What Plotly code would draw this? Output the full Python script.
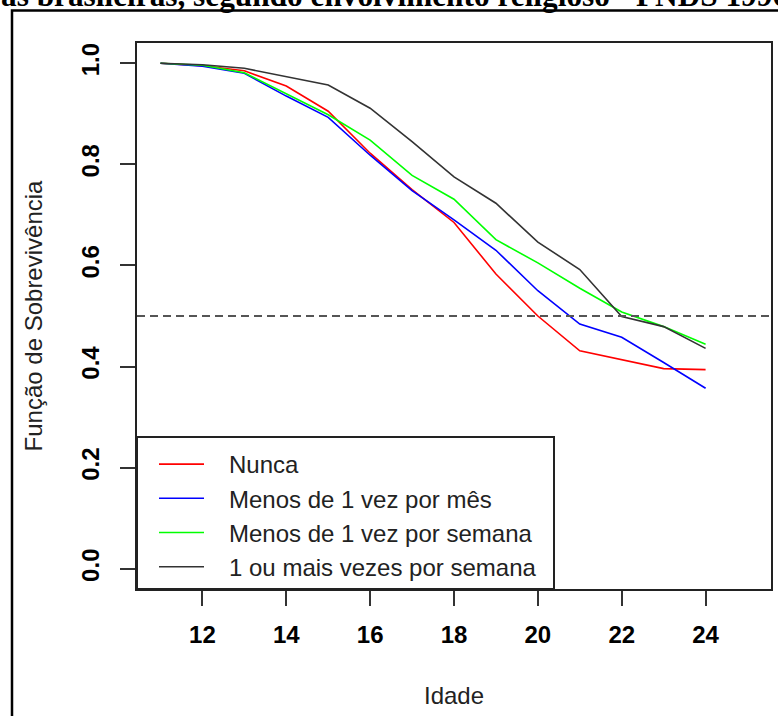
import plotly.graph_objects as go

# ---- data ----
ages = [11, 12, 13, 14, 15, 16, 17, 18, 19, 20, 21, 22, 23, 24]
nunca = [1.0, 0.995, 0.985, 0.955, 0.905, 0.822, 0.750, 0.685, 0.583, 0.500, 0.431, 0.414, 0.396, 0.394]
menos_mes = [1.0, 0.994, 0.980, 0.935, 0.893, 0.818, 0.748, 0.690, 0.630, 0.550, 0.484, 0.458, 0.408, 0.357]
menos_semana = [1.0, 0.996, 0.981, 0.940, 0.898, 0.848, 0.778, 0.731, 0.651, 0.605, 0.555, 0.508, 0.479, 0.444]
mais_semana = [1.0, 0.997, 0.990, 0.973, 0.957, 0.911, 0.845, 0.775, 0.723, 0.646, 0.592, 0.499, 0.479, 0.436]

series_names = ["Nunca", "Menos de 1 vez por mês", "Menos de 1 vez por semana", "1 ou mais vezes por semana"]
series_values = [nunca, menos_mes, menos_semana, mais_semana]
series_colors = ["#FF0000", "#0000FF", "#00FF00", "#333333"]

x_ticks = [12, 14, 16, 18, 20, 22, 24]
y_ticks = [0.0, 0.2, 0.4, 0.6, 0.8, 1.0]
ref_level = 0.5

title_text = "as brasileiras, segundo envolvimento religioso - PNDS 1996"
x_title = "Idade"
y_title = "Função de Sobrevivência"

# ---- figure ----
W, H = 778, 716
L, R, T, B = 137, 7, 43, 127
pw, ph = W - L - R, H - T - B

def px_x(px):
    return (px - L) / pw

def px_y(py):
    return (H - B - py) / ph

PAD = "\u00a0\u00a0\u00a0"

fig = go.Figure()
for name, vals, col in zip(series_names, series_values, series_colors):
    fig.add_trace(go.Scatter(x=ages, y=vals, mode="lines", name=PAD + name,
                             line=dict(color=col, width=1.6)))

fig.add_hline(y=ref_level, line=dict(color="#555555", width=2, dash="8px,5px"))

font_main = "Liberation Sans, Arial, sans-serif"
axis_common = dict(showgrid=False, zeroline=False, showline=True, mirror=True,
                   linecolor="#222222", linewidth=2, ticks="outside", ticklen=15,
                   tickwidth=2, tickcolor="#333333", automargin=False,
                   tickfont=dict(family=font_main, size=24, color="black", weight="bold"))

fig.update_xaxes(range=[10.44, 25.56], tickvals=x_ticks, ticklabelstandoff=8,
                 title=dict(text=x_title, font=dict(family=font_main, size=24, color="#222222"), standoff=40),
                 **axis_common)
fig.update_yaxes(range=[-0.04, 1.04], tickvals=y_ticks, tickformat=".1f", tickangle=-90,
                 ticklabelstandoff=11,
                 title=dict(text=y_title, font=dict(family=font_main, size=24, color="#222222"), standoff=28),
                 **axis_common)

# legend frame
fig.add_shape(type="rect", xref="paper", yref="paper",
              x0=0, x1=px_x(554), y0=0, y1=px_y(437),
              line=dict(color="#222222", width=2), fillcolor="rgba(0,0,0,0)", layer="above")
# outer page frame
fig.add_shape(type="rect", xref="paper", yref="paper",
              x0=px_x(12), x1=1.1, y0=-0.4, y1=px_y(10.5),
              line=dict(color="black", width=2.5), fillcolor="rgba(0,0,0,0)", layer="above")

fig.add_annotation(text=title_text, xref="paper", yref="paper",
                   x=px_x(-1), y=px_y(15), xanchor="left", yanchor="bottom",
                   showarrow=False,
                   font=dict(family="Liberation Serif, Times New Roman, serif", size=31.3,
                             color="black", weight="bold"))

fig.update_layout(
    width=W, height=H,
    margin=dict(l=L, r=R, t=T, b=B, autoexpand=False),
    paper_bgcolor="white", plot_bgcolor="white",
    showlegend=True,
    legend=dict(x=px_x(154), y=px_y(442), xanchor="left", yanchor="top",
                bgcolor="rgba(0,0,0,0)", borderwidth=0,
                font=dict(family=font_main, size=24, color="#222222"),
                itemwidth=45, tracegroupgap=0),
)

fig.write_html("out.html")
